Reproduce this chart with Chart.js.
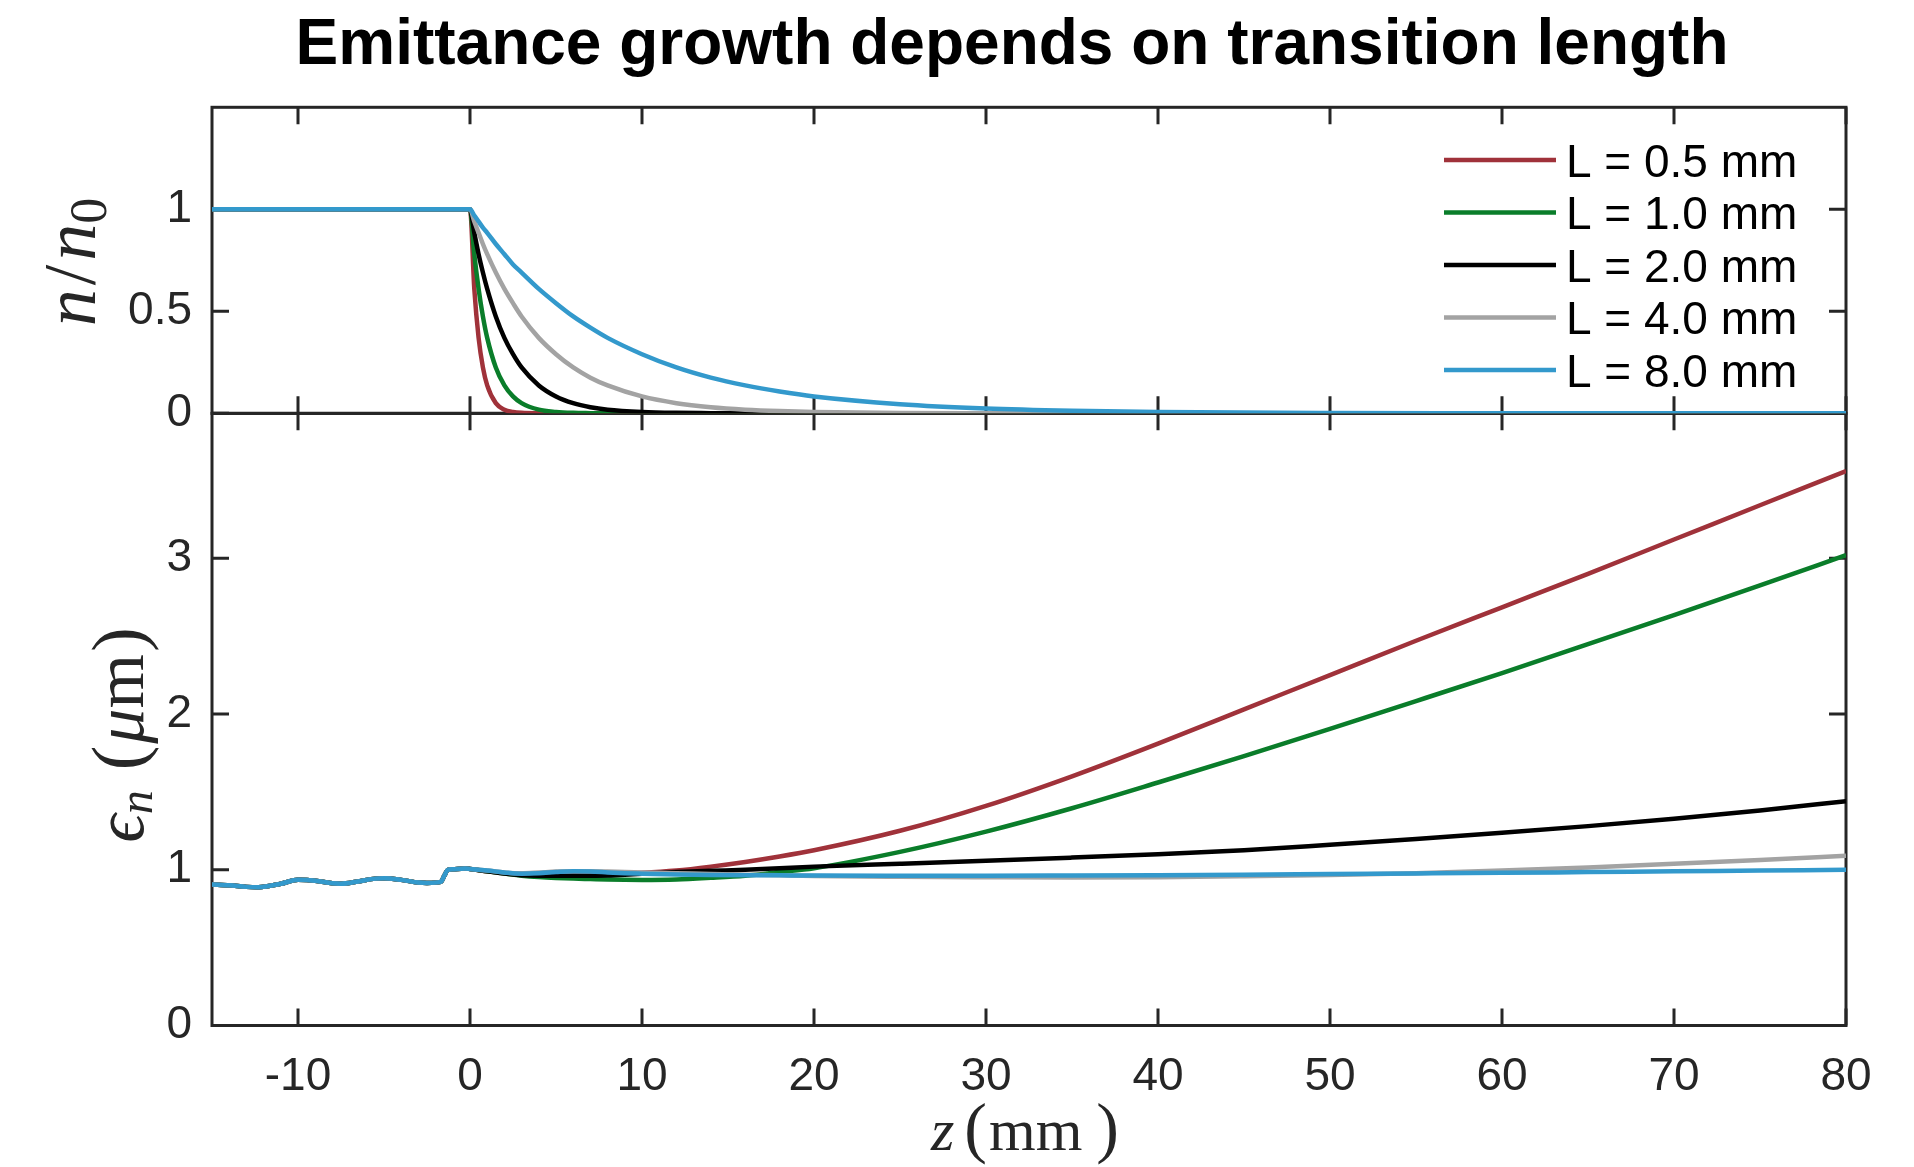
<!DOCTYPE html>
<html><head><meta charset="utf-8">
<script src="https://cdn.jsdelivr.net/npm/chart.js@4.4.1/dist/chart.umd.min.js"></script>
<style>html,body{margin:0;padding:0;background:#fff;overflow:hidden}canvas{display:block}</style>
</head><body>
<canvas id="c" width="1914" height="1167" style="width:1914px;height:1167px"></canvas>
<script>
const titleText = 'Emittance growth depends on transition length';
const seriesLabels = ['L = 0.5 mm', 'L = 1.0 mm', 'L = 2.0 mm', 'L = 4.0 mm', 'L = 8.0 mm'];
const seriesColors = ['#A0323A', '#0A7D2A', '#000000', '#A3A3A3', '#3399CC'];
const xTicks = [-10, 0, 10, 20, 30, 40, 50, 60, 70, 80];
const topTicks = [0, 0.5, 1];
const botTicks = [0, 1, 2, 3];

// top panel: n/n0
const zTop = [-15, 0, 0.25, 0.5, 0.75, 1, 1.5, 2, 2.5, 3, 4, 5, 6, 7, 8, 10, 12, 14, 16, 18, 20, 25, 30, 35, 40, 50, 60, 70, 80];
const nL05 = [1, 1, 0.61, 0.37, 0.225, 0.137, 0.05, 0.018, 0.007, 0.0025, 0.0003, 0, 0, 0, 0, 0, 0, 0, 0, 0, 0, 0, 0, 0, 0, 0, 0, 0, 0];
const nL1  = [1, 1, 0.78, 0.61, 0.475, 0.37, 0.225, 0.137, 0.083, 0.05, 0.018, 0.007, 0.0025, 0.001, 0, 0, 0, 0, 0, 0, 0, 0, 0, 0, 0, 0, 0, 0, 0];
const nL2  = [1, 1, 0.885, 0.78, 0.69, 0.61, 0.475, 0.37, 0.29, 0.225, 0.137, 0.083, 0.05, 0.03, 0.018, 0.007, 0.0025, 0.001, 0, 0, 0, 0, 0, 0, 0, 0, 0, 0, 0];
const nL4  = [1, 1, 0.94, 0.885, 0.83, 0.78, 0.69, 0.61, 0.54, 0.475, 0.37, 0.29, 0.225, 0.175, 0.137, 0.083, 0.05, 0.03, 0.018, 0.011, 0.007, 0.002, 0.0005, 0, 0, 0, 0, 0, 0];
const nL8  = [1, 1, 0.97, 0.94, 0.91, 0.885, 0.83, 0.78, 0.73, 0.69, 0.61, 0.54, 0.475, 0.42, 0.37, 0.29, 0.225, 0.175, 0.137, 0.107, 0.083, 0.045, 0.024, 0.013, 0.007, 0.002, 0.0006, 0, 0];

// bottom panel: emittance (um)
const zBot = [-15, -14, -13, -12.3, -11, -10, -9, -8, -7.5, -6.5, -5.5, -5, -4, -3, -2.5, -1.7, -1.5, -1.3, -1, -0.3, 0,
              1, 2, 3, 4, 5, 6, 7, 8, 9, 10, 12, 14, 16, 18, 20, 25, 30, 35, 40, 45, 50, 55, 60, 65, 70, 75, 80];
const ePre = [0.905, 0.9, 0.89, 0.888, 0.91, 0.935, 0.93, 0.913, 0.91, 0.925, 0.943, 0.945, 0.935, 0.918, 0.915, 0.922, 0.96, 0.998, 1.003, 1.008, 1.005];
const eL05 = ePre.concat([0.99, 0.978, 0.97, 0.968, 0.968, 0.97, 0.972, 0.974, 0.976, 0.98, 0.995, 1.02, 1.05, 1.085, 1.125, 1.25, 1.41, 1.6, 1.81, 2.03, 2.25, 2.47, 2.685, 2.9, 3.12, 3.34, 3.56]);
const eL1  = ePre.concat([0.99, 0.975, 0.962, 0.953, 0.947, 0.943, 0.94, 0.937, 0.935, 0.934, 0.937, 0.948, 0.962, 0.985, 1.01, 1.115, 1.245, 1.395, 1.56, 1.73, 1.905, 2.083, 2.263, 2.448, 2.635, 2.825, 3.02]);
const eL2  = ePre.concat([0.99, 0.975, 0.965, 0.962, 0.962, 0.962, 0.962, 0.963, 0.968, 0.975, 0.985, 0.993, 1.0, 1.01, 1.02, 1.038, 1.057, 1.078, 1.1, 1.125, 1.16, 1.197, 1.237, 1.28, 1.328, 1.381, 1.44]);
const eL4  = ePre.concat([0.995, 0.983, 0.977, 0.982, 0.988, 0.99, 0.99, 0.988, 0.985, 0.983, 0.978, 0.972, 0.968, 0.964, 0.96, 0.955, 0.952, 0.95, 0.952, 0.958, 0.966, 0.978, 0.995, 1.015, 1.038, 1.063, 1.09]);
const eL8  = ePre.concat([0.995, 0.983, 0.975, 0.978, 0.985, 0.99, 0.988, 0.983, 0.978, 0.975, 0.97, 0.967, 0.965, 0.964, 0.963, 0.962, 0.962, 0.963, 0.965, 0.968, 0.972, 0.976, 0.98, 0.985, 0.99, 0.995, 1.0]);

const topSeries = [nL05, nL1, nL2, nL4, nL8];
const botSeries = [eL05, eL1, eL2, eL4, eL8];

const AX = '#262626';
const TICK_LEN = 17;
const SANS = '"Liberation Sans", Arial, Helvetica, sans-serif';
const SERIF = '"Liberation Serif", "DejaVu Serif", serif';

const datasets = [];
topSeries.forEach((arr, i) => datasets.push({
  label: seriesLabels[i], yAxisID: 'yTop', order: 5 - i,
  data: zTop.map((z, k) => ({x: z, y: arr[k]})),
  borderColor: seriesColors[i], borderWidth: 4.5, pointRadius: 0, fill: false,
  cubicInterpolationMode: 'monotone'
}));
botSeries.forEach((arr, i) => datasets.push({
  label: seriesLabels[i], yAxisID: 'yBot', order: 5 - i,
  data: zBot.map((z, k) => ({x: z, y: arr[k]})),
  borderColor: seriesColors[i], borderWidth: 4.5, pointRadius: 0, fill: false,
  cubicInterpolationMode: 'monotone'
}));

function drawMath(ctx, pieces, cx, by, rotated) {
  ctx.save();
  let total = 0;
  pieces.forEach(p => { ctx.font = p.f; p.w = ctx.measureText(p.t).width; total += p.w + (p.gap || 0); });
  ctx.translate(cx, by);
  if (rotated) ctx.rotate(-Math.PI / 2);
  let x = -total / 2;
  ctx.fillStyle = AX;
  ctx.textBaseline = 'alphabetic';
  ctx.textAlign = 'left';
  pieces.forEach(p => {
    ctx.font = p.f;
    ctx.fillText(p.t, x, p.dy || 0);
    x += p.w + (p.gap || 0);
  });
  ctx.restore();
}

const framePlugin = {
  id: 'frame',
  beforeDatasetsDraw(chart) {
    const ctx = chart.ctx, xs = chart.scales.x;
    const L = chart.chartArea.left, R = chart.chartArea.right;
    ctx.save();
    ctx.strokeStyle = AX; ctx.lineWidth = 3; ctx.lineCap = 'butt';
    ['yTop', 'yBot'].forEach(id => {
      const s = chart.scales[id];
      ctx.strokeRect(L, s.top, R - L, s.bottom - s.top);
      ctx.beginPath();
      xTicks.forEach(v => {
        const px = xs.getPixelForValue(v);
        ctx.moveTo(px, s.top); ctx.lineTo(px, s.top + TICK_LEN);
        ctx.moveTo(px, s.bottom); ctx.lineTo(px, s.bottom - TICK_LEN);
      });
      const tks = id === 'yTop' ? topTicks : botTicks;
      tks.forEach(v => {
        const py = s.getPixelForValue(v);
        ctx.moveTo(L, py); ctx.lineTo(L + TICK_LEN, py);
        ctx.moveTo(R, py); ctx.lineTo(R - TICK_LEN, py);
      });
      ctx.stroke();
    });
    ctx.restore();
  },
  afterDraw(chart) {
    const ctx = chart.ctx;
    ctx.save();
    // title
    ctx.fillStyle = '#000';
    ctx.font = 'bold 64px ' + SANS;
    ctx.textAlign = 'center'; ctx.textBaseline = 'alphabetic';
    ctx.fillText(titleText, 1012, 64);
    // legend
    const rows = [160, 212.5, 265, 317.5, 370];
    ctx.font = '46px ' + SANS;
    ctx.textAlign = 'left';
    seriesLabels.forEach((lab, i) => {
      ctx.strokeStyle = seriesColors[i]; ctx.lineWidth = 4.5;
      ctx.beginPath(); ctx.moveTo(1444, rows[i]); ctx.lineTo(1556, rows[i]); ctx.stroke();
      ctx.fillStyle = '#000';
      ctx.fillText(lab, 1566, rows[i] + 16.5);
    });
    ctx.restore();
    // axis titles
    drawMath(ctx, [
      {t: 'n', f: 'italic 74px ' + SERIF, gap: 4},
      {t: '/', f: '74px ' + SERIF, gap: 4},
      {t: 'n', f: 'italic 74px ' + SERIF},
      {t: '0', f: '52px ' + SERIF, dy: 11}
    ], 95, 262, true);
    drawMath(ctx, [
      {t: '\u03F5', f: 'italic 70px ' + SERIF},
      {t: 'n', f: 'italic 48px ' + SERIF, dy: 9, gap: 20},
      {t: '(', f: '74px ' + SERIF, gap: 2},
      {t: '\u03BC', f: 'italic 70px ' + SERIF},
      {t: 'm', f: '70px ' + SERIF, gap: 2},
      {t: ')', f: '74px ' + SERIF}
    ], 143, 735, true);
    drawMath(ctx, [
      {t: 'z', f: 'italic 60px ' + SERIF, gap: 10},
      {t: '(', f: '68px ' + SERIF, gap: 2},
      {t: 'mm', f: '60px ' + SERIF, gap: 14},
      {t: ')', f: '68px ' + SERIF}
    ], 1025, 1150, false);
  }
};

new Chart(document.getElementById('c'), {
  type: 'line',
  data: {datasets},
  options: {
    responsive: false, animation: false, devicePixelRatio: 1,
    layout: {padding: {top: 107.3, right: 68, bottom: 0, left: 0}},
    plugins: {legend: {display: false}, title: {display: false}, tooltip: {enabled: false}},
    scales: {
      x: {
        type: 'linear', min: -15, max: 80,
        afterBuildTicks: s => { s.ticks = xTicks.map(v => ({value: v})); },
        afterFit: s => { s.height = 141.5; },
        grid: {display: false, drawTicks: false}, border: {display: false},
        ticks: {color: AX, font: {family: SANS, size: 46}, padding: 24, maxRotation: 0, autoSkip: false,
                callback: v => String(v)}
      },
      yBot: {
        type: 'linear', position: 'left', stack: 'v', stackWeight: 2, min: 0, max: 3.93,
        afterBuildTicks: s => { s.ticks = botTicks.map(v => ({value: v})); },
        afterFit: s => { s.width = 212; },
        grid: {display: false, drawTicks: false}, border: {display: false},
        ticks: {color: AX, font: {family: SANS, size: 46}, padding: 20, callback: v => String(v)}
      },
      yTop: {
        type: 'linear', position: 'left', stack: 'v', stackWeight: 1, min: 0, max: 1.5,
        afterBuildTicks: s => { s.ticks = topTicks.map(v => ({value: v})); },
        afterFit: s => { s.width = 212; },
        grid: {display: false, drawTicks: false}, border: {display: false},
        ticks: {color: AX, font: {family: SANS, size: 46}, padding: 20, callback: v => String(v)}
      }
    }
  },
  plugins: [framePlugin]
});
</script>
</body></html>
